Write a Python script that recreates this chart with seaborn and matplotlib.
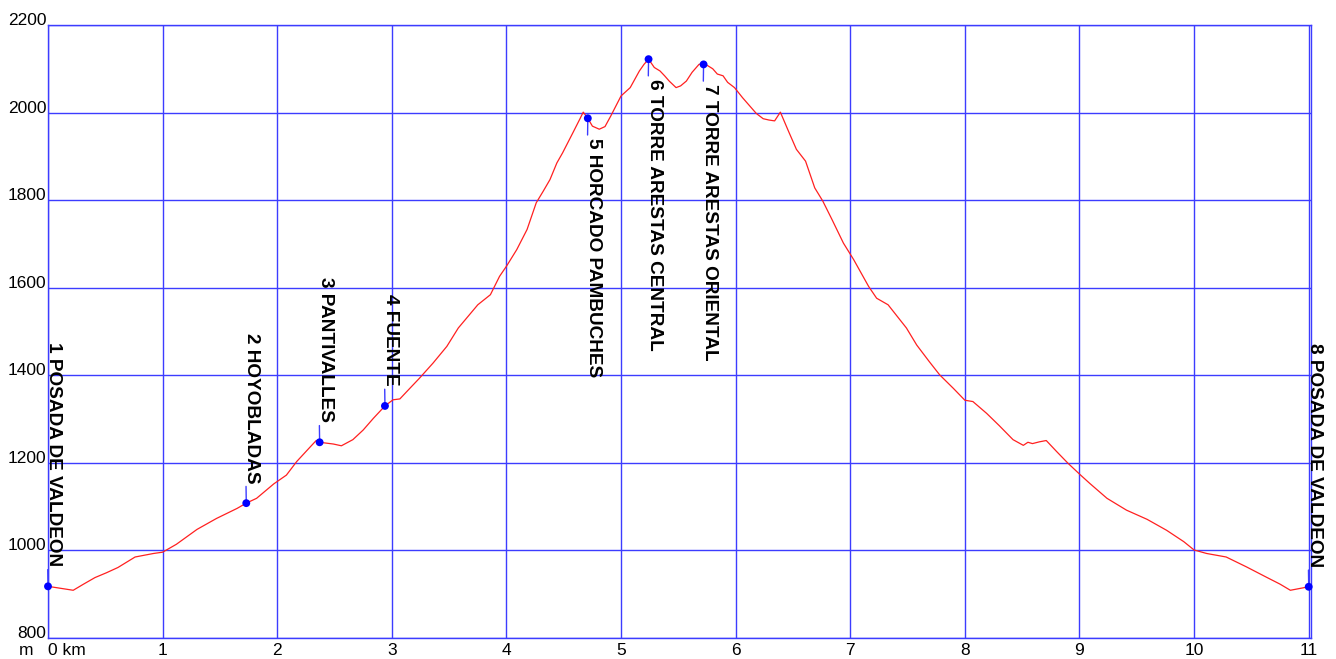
import matplotlib
matplotlib.use('Agg')
import numpy as np
import pandas as pd
import matplotlib.pyplot as plt
import seaborn as sns

# perfil de altura (km, m)
dist_km = [0.00, 0.22, 0.31, 0.41, 0.51, 0.61, 0.76, 0.92, 1.00, 1.12, 1.30, 1.47, 1.65, 1.73,
           1.82, 1.97, 2.08, 2.17, 2.29, 2.34, 2.37, 2.49, 2.56, 2.66, 2.75, 2.84, 2.94, 3.01,
           3.07, 3.16, 3.24, 3.36, 3.48, 3.58, 3.75, 3.86, 3.94, 4.00, 4.09, 4.18, 4.26, 4.32,
           4.38, 4.44, 4.49, 4.58, 4.64, 4.67, 4.71, 4.75, 4.81, 4.86, 4.91, 5.00, 5.08, 5.16,
           5.20, 5.24, 5.29, 5.34, 5.38, 5.42, 5.48, 5.52, 5.57, 5.62, 5.68, 5.72, 5.80, 5.84,
           5.89, 5.93, 5.99, 6.06, 6.18, 6.24, 6.29, 6.34, 6.39, 6.46, 6.53, 6.61, 6.69, 6.76,
           6.84, 6.94, 7.03, 7.16, 7.23, 7.33, 7.49, 7.58, 7.69, 7.78, 7.90, 8.00, 8.07, 8.19,
           8.30, 8.42, 8.51, 8.55, 8.59, 8.65, 8.71, 8.80, 8.90, 9.01, 9.09, 9.24, 9.41, 9.59,
           9.76, 9.91, 10.00, 10.11, 10.28, 10.46, 10.63, 10.75, 10.84, 11.00]
altitud = [918, 909, 923, 938, 949, 961, 985, 993, 996, 1014, 1048, 1073, 1096, 1108,
           1119, 1152, 1172, 1203, 1237, 1251, 1247, 1243, 1239, 1253, 1275, 1302, 1330, 1344,
           1346, 1371, 1393, 1428, 1466, 1508, 1561, 1584, 1626, 1649, 1687, 1733, 1794, 1820,
           1847, 1885, 1908, 1954, 1985, 2001, 1987, 1969, 1962, 1968, 1992, 2038, 2057, 2095,
           2110, 2122, 2103, 2095, 2084, 2072, 2057, 2061, 2072, 2092, 2110, 2113, 2100, 2088,
           2084, 2069, 2057, 2034, 1998, 1986, 1983, 1981, 2001, 1958, 1916, 1889, 1828, 1798,
           1756, 1702, 1664, 1603, 1576, 1561, 1508, 1469, 1431, 1401, 1370, 1343, 1340, 1313,
           1285, 1253, 1240, 1247, 1244, 1248, 1251, 1226, 1199, 1172, 1153, 1119, 1092, 1071,
           1046, 1020, 1001, 993, 985, 962, 939, 923, 909, 917]

# puntos de paso
wp_km = [0.00, 1.73, 2.37, 2.94, 4.71, 5.24, 5.72, 11.00]
wp_alt = [918, 1108, 1247, 1330, 1987, 2122, 2110, 917]
wp_nombre = ['1 POSADA DE VALDEON', '2 HOYOBLADAS', '3 PANTIVALLES', '4 FUENTE',
             '5 HORCADO PAMBUCHES', '6 TORRE ARESTAS CENTRAL', '7 TORRE ARESTAS ORIENTAL',
             '8 POSADA DE VALDEON']
wp_arriba = [True, True, True, True, False, False, False, True]

x_ticks = list(range(0, 12))
x_labels = ['0 km'] + [str(i) for i in range(1, 12)]
y_ticks = list(range(800, 2201, 200))

sns.set_theme(style='white')
plt.rcParams['font.family'] = ['Liberation Sans', 'DejaVu Sans']

azul = '#3c3cff'

fig, ax = plt.subplots(figsize=(13.36, 6.59), dpi=100)
fig.subplots_adjust(left=48/1336, right=1311/1336, bottom=1-638/659, top=1-25/659)

perfil = pd.DataFrame({'km': dist_km, 'alt': altitud})
sns.lineplot(data=perfil, x='km', y='alt', color='#ff2020', lw=0.9, ax=ax, zorder=3)
sns.scatterplot(x=wp_km, y=wp_alt, color='blue', s=32, edgecolor='none', ax=ax,
                zorder=5, clip_on=False)

ax.set_xlim(0, 11.02)
ax.set_ylim(800, 2200)
ax.set_xticks(x_ticks)
ax.set_xticklabels(x_labels)
ax.set_yticks(y_ticks)
ax.grid(True, color=azul, lw=1)
for s in ax.spines.values():
    s.set_color(azul)
    s.set_linewidth(1)
ax.set_xlabel('')
ax.set_ylabel('')
ax.tick_params(axis='x', length=0, pad=3.5, labelsize=12.5, labelcolor='black')
ax.tick_params(axis='y', length=0, pad=1, labelsize=12.5, labelcolor='black')
for lbl in ax.get_yticklabels():
    lbl.set_va('baseline')
ax.get_xticklabels()[0].set_ha('left')

ax.annotate('m', xy=(0, 800), xytext=(-15, -5), textcoords='offset pixels',
            ha='right', va='top', fontsize=12.5, color='black', annotation_clip=False)

# etiquetas verticales de los puntos
for k, a, nombre, arriba in zip(wp_km, wp_alt, wp_nombre, wp_arriba):
    ax.annotate(nombre, xy=(k, a), xytext=(-3, 20 if arriba else -20),
                textcoords='offset pixels', rotation=-90, ha='left',
                va='bottom' if arriba else 'top', fontsize=13.7, fontweight='bold',
                color='black', annotation_clip=False,
                arrowprops=dict(arrowstyle='-', color=azul, lw=1, shrinkA=0, shrinkB=0,
                                relpos=(0.16, 0) if arriba else (0.16, 1)))

plt.savefig('out.png', dpi=100)
